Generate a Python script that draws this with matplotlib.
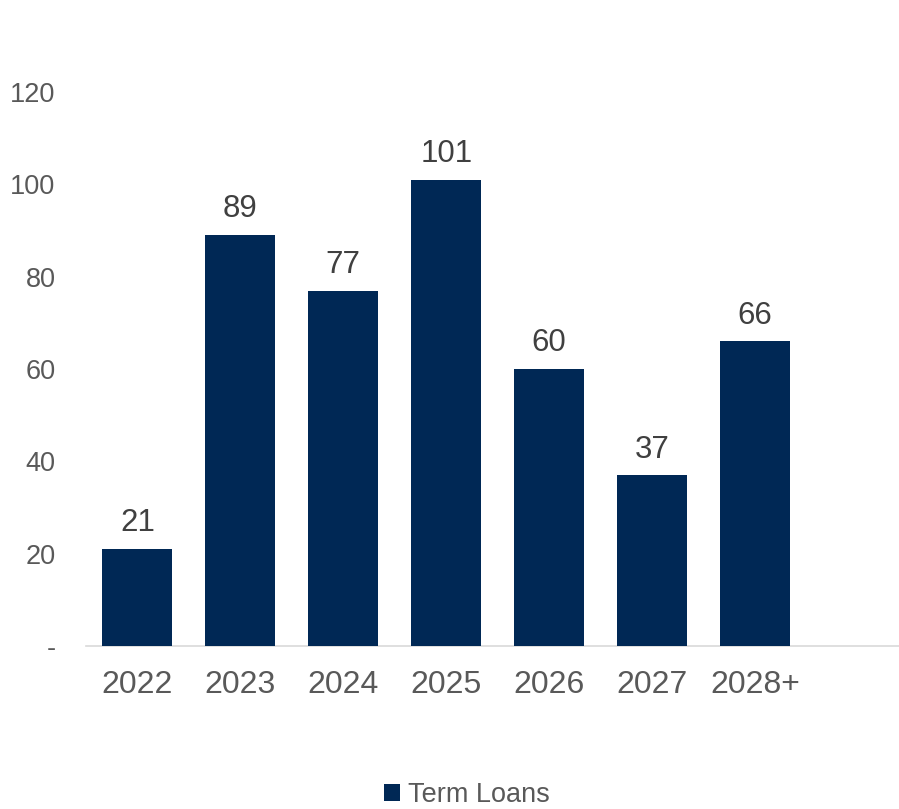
import matplotlib.pyplot as plt

plt.rcParams["font.family"] = ["Liberation Sans", "DejaVu Sans"]

categories = ["2022", "2023", "2024", "2025", "2026", "2027", "2028+"]
term_loans = [21, 89, 77, 101, 60, 37, 66]
y_ticks = [0, 20, 40, 60, 80, 100, 120]
y_tick_labels = ["-", "20", "40", "60", "80", "100", "120"]

NAVY = "#002855"
GREY_TEXT = "#595959"

fig = plt.figure(figsize=(8.99, 8.09), dpi=100)
ax = fig.add_axes([0.0957, 0.2015, 0.9043, 0.6848])

x = list(range(len(categories)))
bars = ax.bar(x, term_loans, width=0.68, color=NAVY, label="Term Loans", zorder=3)

for rect, val in zip(bars, term_loans):
    ax.text(rect.get_x() + rect.get_width() / 2, val + 2.3, f"{val}",
            ha="center", va="bottom", fontsize=22.5, color="#404040")

ax.set_xlim(-0.5, 7.4)
ax.set_ylim(0, 120)
ax.set_xticks(x)
ax.set_xticklabels(categories, fontsize=23, color=GREY_TEXT)
ax.set_yticks(y_ticks)
ax.set_yticklabels(y_tick_labels, fontsize=19.5, color=GREY_TEXT)
ax.tick_params(axis="both", length=0)
ax.tick_params(axis="y", pad=22)
ax.tick_params(axis="x", pad=17)

for side in ("top", "right", "left"):
    ax.spines[side].set_visible(False)
ax.spines["bottom"].set_color("#D9D9D9")
ax.spines["bottom"].set_linewidth(1.2)

fig.legend(loc="center", bbox_to_anchor=(0.519, 0.017), frameon=False,
           fontsize=19.5, labelcolor=GREY_TEXT, handlelength=0.6, handleheight=0.6,
           handletextpad=0.3, borderpad=0)

fig.savefig("out.png", dpi=100)
